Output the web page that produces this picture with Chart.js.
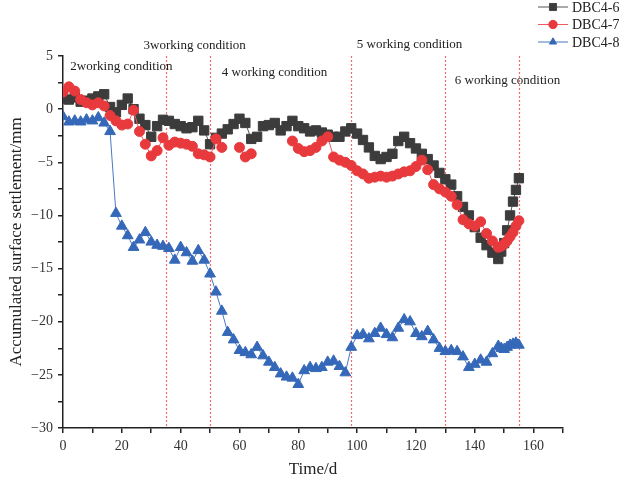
<!DOCTYPE html>
<html>
<head>
<meta charset="utf-8">
<script src="https://cdn.jsdelivr.net/npm/chart.js@4.4.0/dist/chart.umd.min.js"></script>
<style>
  body { margin: 0; background: #fff; }
  #canvas { display: block; }
</style>
</head>
<body>
<canvas id="canvas" width="619" height="484"></canvas>
<script>
//Data (time in days, settlement in mm)
var days = [0, 2, 4, 6, 8, 10, 12, 14, 16, 18,
  20, 22, 24, 26, 28, 30, 32, 34, 36, 38,
  40, 42, 44, 46, 48, 50, 52, 54, 56, 58,
  60, 62, 64, 66, 68, 70, 72, 74, 76, 78,
  80, 82, 84, 86, 88, 90, 92, 94, 96, 98,
  100, 102, 104, 106, 108, 110, 112, 114, 116, 118,
  120, 122, 124, 126, 128, 130, 132, 134, 136, 138,
  140, 142, 144, 146, 148, 149, 150, 151, 152, 153, 154, 155];

var dbc46 = [1.0, 0.9, 1.1, 0.7, 0.8, 1.0, 1.2, 1.4, 0.2, -0.3,
  0.4, 1.0, 0.0, -0.9, -1.5, -2.6, -1.6, -1.0, -1.1, -1.4,
  -1.6, -1.8, -1.7, -1.1, -2.0, -3.3, -2.7, -2.3, -1.9, -1.4,
  -0.9, -1.3, -2.8, -2.6, -1.6, -1.5, -1.3, -2.0, -1.6, -1.1,
  -1.6, -1.8, -2.1, -2.0, -2.2, -2.4, -2.6, -2.6, -2.1, -1.8,
  -2.3, -2.9, -3.6, -4.4, -4.7, -4.5, -4.2, -3.0, -2.6, -3.2,
  -3.7, -4.2, -4.7, -5.3, -6.0, -6.6, -7.1, -8.2, -9.2, -10.0,
  -11.1, -12.1, -12.8, -13.5, -14.1, -13.4, -12.6, -11.4, -10.0, -8.7, -7.6, -6.5];

var dbc47 = [1.6, 2.1, 1.7, 0.9, 0.6, 0.4, 0.6, 0.3, -0.6, -1.1,
  -1.5, -1.4, -0.1, -2.1, -3.3, -4.4, -3.9, -2.7, -3.4, -3.1,
  -3.2, -3.3, -3.5, -4.2, -4.3, -4.5, -2.8, -3.6, null, null,
  -3.6, -4.5, -4.2, null, null, null, null, null, null, -3.0,
  -3.7, -4.0, -3.9, -3.6, -3.0, -2.6, -4.5, -4.8, -5.0, -5.3,
  -5.8, -6.1, -6.5, -6.4, -6.3, -6.4, -6.3, -6.1, -5.9, -5.8,
  -5.4, -4.8, -5.7, -7.1, -7.5, -7.8, -8.2, -9.0, -10.4, -10.8,
  -11.0, -10.6, -11.7, -12.4, -13.0, -12.9, -12.7, -12.4, -12.0, -11.6, -11.0, -10.5];

var dbc48 = [-0.7, -1.2, -1.1, -1.2, -1.0, -1.1, -0.8, -1.3, -2.1, -9.8,
  -11.0, -11.9, -13.0, -12.3, -11.6, -12.5, -12.8, -12.9, -13.1, -14.2,
  -13.0, -13.5, -14.3, -13.3, -14.2, -15.5, -17.2, -19.0, -21.0, -21.7,
  -22.7, -22.9, -23.1, -22.4, -23.2, -23.8, -24.3, -24.9, -25.2, -25.3,
  -25.9, -24.6, -24.3, -24.4, -24.3, -23.8, -23.7, -24.2, -24.8, -22.4,
  -21.3, -21.2, -21.6, -21.1, -20.6, -21.2, -21.5, -20.6, -19.8, -20.0,
  -21.1, -21.4, -20.9, -21.7, -22.5, -22.8, -22.7, -22.8, -23.3, -24.3,
  -24.0, -23.6, -23.8, -23.0, -22.3, -22.5, -22.6, -22.4, -22.2, -22.1, -22.0, -22.2];

var seriesNames = ['DBC4-6', 'DBC4-7', 'DBC4-8'];
var xTicks = [0, 20, 40, 60, 80, 100, 120, 140, 160];
var yTicks = [5, 0, -5, -10, -15, -20, -25, -30];

//working condition boundaries and their labels
var conditionDays = [35, 50, 98, 130, 155];
var conditionNames = ['2working condition', '3working condition', '4 working condition', '5 working condition', '6 working condition'];
var conditionLabelDay = [2.5, 27.4, 54, 99.9, 133.2];
var conditionLabelValue = [4.0, 6.0, 3.45, 6.1, 2.7];

var serif = "'Liberation Serif', 'Times New Roman', serif";

function makePoints(values) {
  var pts = [];
  for (var i = 0; i < days.length; i++) {
    pts.push({ x: days[i], y: values[i] });
  }
  return pts;
}

function minus(v) {
  return String(v).replace('-', '\u2212');
}

//dotted lines, labels and legend drawn on top of the chart
var extrasPlugin = {
  id: 'extras',
  beforeDatasetsDraw: function (chart) {
    var ctx = chart.ctx;
    var xs = chart.scales.x;
    var area = chart.chartArea;
    ctx.save();
    ctx.strokeStyle = '#f26b6b';
    ctx.lineWidth = 1.2;
    ctx.setLineDash([2, 2]);
    for (var i = 0; i < conditionDays.length; i++) {
      var px = Math.round(xs.getPixelForValue(conditionDays[i])) + 0.5;
      ctx.beginPath();
      ctx.moveTo(px, area.top);
      ctx.lineTo(px, area.bottom);
      ctx.stroke();
    }
    ctx.restore();
  },
  afterDraw: function (chart) {
    var ctx = chart.ctx;
    var xs = chart.scales.x;
    var ys = chart.scales.y;
    ctx.save();
    ctx.fillStyle = '#222';
    ctx.font = '13px ' + serif;
    ctx.textBaseline = 'middle';
    ctx.textAlign = 'left';
    for (var i = 0; i < conditionNames.length; i++) {
      ctx.fillText(conditionNames[i], xs.getPixelForValue(conditionLabelDay[i]), ys.getPixelForValue(conditionLabelValue[i]));
    }

    //legend: line with marker, then name
    var sets = chart.data.datasets;
    for (var k = 0; k < sets.length; k++) {
      var ly = 7 + k * 17.5;
      ctx.strokeStyle = sets[k].borderColor;
      ctx.lineWidth = 1;
      ctx.setLineDash([]);
      ctx.beginPath();
      ctx.moveTo(538, ly);
      ctx.lineTo(568, ly);
      ctx.stroke();
      Chart.helpers.drawPoint(ctx, {
        pointStyle: sets[k].pointStyle,
        radius: sets[k].pointStyle === 'rect' ? 5 : 4.2,
        borderWidth: 1,
        rotation: 0
      }, 553, ly);
      ctx.fillStyle = sets[k].pointBackgroundColor;
      ctx.fill();
      ctx.fillStyle = '#222';
      ctx.font = '14px ' + serif;
      ctx.fillText(sets[k].label, 572, ly + 1);
    }
    ctx.restore();
  }
};

var ctx = document.getElementById('canvas').getContext('2d');

var chart = new Chart(ctx, {
  type: 'line',
  data: {
    datasets: [
      {
        label: seriesNames[0],
        data: makePoints(dbc46),
        borderColor: '#555555',
        backgroundColor: '#3c3c3c',
        pointBackgroundColor: '#3c3c3c',
        pointBorderColor: '#3c3c3c',
        pointStyle: 'rect',
        pointRadius: 6.6,
        borderWidth: 1,
        spanGaps: true,
        order: 3
      },
      {
        label: seriesNames[1],
        data: makePoints(dbc47),
        borderColor: '#ef5a5e',
        backgroundColor: '#e8393d',
        pointBackgroundColor: '#e8393d',
        pointBorderColor: '#e8393d',
        pointStyle: 'circle',
        pointRadius: 5,
        borderWidth: 1,
        spanGaps: false,
        order: 2
      },
      {
        label: seriesNames[2],
        data: makePoints(dbc48),
        borderColor: '#4a78c4',
        backgroundColor: '#3568b8',
        pointBackgroundColor: '#3568b8',
        pointBorderColor: '#3568b8',
        pointStyle: 'triangle',
        pointRadius: 6.2,
        borderWidth: 1,
        spanGaps: true,
        order: 1
      }
    ]
  },
  options: {
    responsive: false,
    animation: false,
    layout: { padding: { top: 56, right: 56, left: 0, bottom: 0 } },
    plugins: {
      legend: { display: false },
      tooltip: { enabled: false }
    },
    scales: {
      x: {
        type: 'linear',
        min: 0,
        max: 170,
        afterFit: function (scale) { scale.height = 56; },
        border: { display: true, color: '#222', width: 1.5 },
        grid: { display: true, drawOnChartArea: false, drawTicks: true, tickLength: 5, color: '#222', lineWidth: 1.5 },
        ticks: {
          stepSize: 10,
          autoSkip: false,
          maxRotation: 0,
          padding: 5,
          color: '#333',
          font: { family: serif, size: 14 },
          callback: function (v) { return xTicks.indexOf(v) >= 0 ? String(v) : ''; }
        },
        title: {
          display: true,
          text: 'Time/d',
          color: '#222',
          font: { family: serif, size: 17 },
          padding: { top: 2, bottom: 4 }
        }
      },
      y: {
        min: -30,
        max: 5,
        afterFit: function (scale) { scale.width = 63; },
        border: { display: true, color: '#222', width: 1.5 },
        grid: { display: true, drawOnChartArea: false, drawTicks: true, tickLength: 5, color: '#222', lineWidth: 1.5 },
        ticks: {
          stepSize: 2.5,
          autoSkip: false,
          padding: 5,
          color: '#333',
          font: { family: serif, size: 14 },
          callback: function (v) { return yTicks.indexOf(v) >= 0 ? minus(v) : ''; }
        },
        title: {
          display: true,
          text: 'Accumulated surface settlement/mm',
          color: '#222',
          font: { family: serif, size: 17 },
          padding: { top: 6, bottom: 2 }
        }
      }
    }
  },
  plugins: [extrasPlugin]
});
</script>
</body>
</html>
